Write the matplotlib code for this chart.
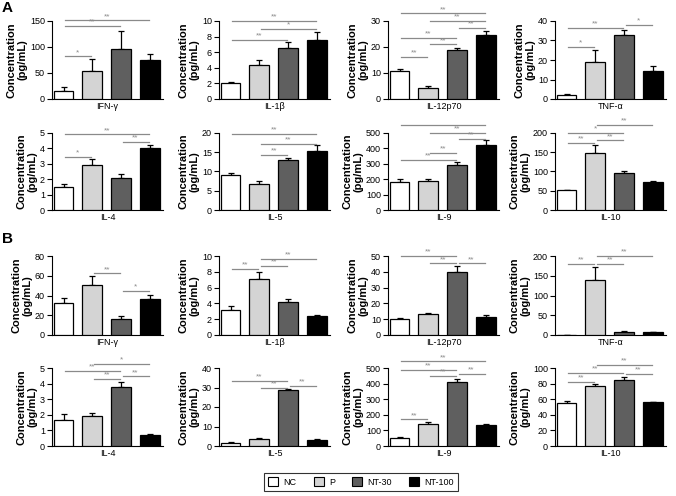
import matplotlib
matplotlib.use('Agg')
import matplotlib.pyplot as plt
from matplotlib.patches import Patch

plt.rcParams['font.family'] = ['Liberation Sans', 'DejaVu Sans']

groups = ['NC', 'P', 'NT-30', 'NT-100']
colors = ['white', '#d4d4d4', '#5f5f5f', 'black']
cytokines = ['IFN-γ', 'IL-1β', 'IL-12p70', 'TNF-α', 'IL-4', 'IL-5', 'IL-9', 'IL-10']

# Panel A
means_A = [[16, 53, 96, 75], [2.1, 4.4, 6.6, 7.55], [10.8, 4.2, 18.8, 24.8], [2.3, 19, 32.7, 14.5],
           [1.5, 2.9, 2.07, 4.0], [9.2, 6.8, 12.9, 15.3], [185, 186, 295, 420], [51, 148, 95, 74]]
err_A = [[8, 23, 35, 12], [0.1, 0.55, 0.75, 1.1], [0.8, 0.9, 0.8, 1.2], [0.5, 6, 2.5, 2.2],
         [0.17, 0.4, 0.3, 0.25], [0.45, 0.85, 0.5, 1.6], [16, 13, 15, 32], [2, 20, 5, 2]]
ymax_A = [150, 10, 30, 40, 5, 20, 500, 200]
ystep_A = [50, 2, 10, 10, 1, 5, 100, 50]
sig_A = [
    [(0, 1, 82, '*'), (0, 2, 140, '**'), (0, 3, 151, '**')],
    [(0, 2, 7.6, '**'), (1, 3, 9.0, '*'), (0, 3, 10.0, '**')],
    [(0, 1, 16.1, '**'), (1, 2, 21, '**'), (0, 2, 23.4, '**'), (2, 3, 27.3, '**'), (1, 3, 30, '**'), (0, 3, 32.9, '**')],
    [(0, 1, 26.6, '*'), (0, 2, 36.4, '**'), (2, 3, 38, '*')],
    [(0, 1, 3.43, '*'), (2, 3, 4.4, '**'), (0, 3, 4.91, '**')],
    [(1, 2, 14.3, '**'), (1, 3, 17.2, '**'), (0, 3, 19.7, '**')],
    [(0, 2, 323, '**'), (1, 2, 373, '**'), (2, 3, 461, '**'), (1, 3, 500, '**'), (0, 3, 554, '')],
    [(0, 1, 175, '**'), (1, 2, 181, '**'), (0, 2, 200, '*'), (1, 3, 221, '**')],
]

# Panel B
means_B = [[32, 51, 16, 36.5], [3.15, 7.1, 4.15, 2.4], [10, 13.5, 40, 11.5], [0, 140, 8, 7.5],
           [1.65, 1.95, 3.8, 0.7], [1.5, 3.8, 28.5, 3.3], [52, 140, 412, 137], [54.5, 77.5, 84, 56.5]]
err_B = [[5, 8.5, 3.7, 4.3], [0.55, 0.9, 0.35, 0.17], [1, 0.3, 3.5, 1.2], [0, 31, 1, 1],
         [0.42, 0.18, 0.33, 0.05], [0.5, 0.4, 0.7, 0.4], [3, 15, 16, 3], [2.6, 1.7, 5, 0.5]]
ymax_B = [80, 10, 50, 200, 5, 40, 500, 100]
ystep_B = [20, 2, 10, 50, 1, 10, 100, 20]
sig_B = [
    [(1, 2, 62.4, '**'), (2, 3, 44.4, '*')],
    [(0, 1, 8.4, '**'), (1, 2, 8.75, '**'), (1, 3, 9.6, '**')],
    [(0, 2, 50, '**'), (1, 2, 45.3, '**'), (2, 3, 45.3, '**')],
    [(0, 1, 180, '**'), (1, 2, 180, '**'), (1, 3, 200, '**')],
    [(1, 2, 4.29, '**'), (2, 3, 4.46, '**'), (0, 2, 4.79, '**'), (1, 3, 5.26, '*')],
    [(0, 2, 33.3, '**'), (1, 2, 29.9, '**'), (2, 3, 30.8, '**')],
    [(0, 1, 170, '**'), (1, 2, 449, '**'), (2, 3, 460, '**'), (0, 2, 489, '**'), (0, 3, 542, '**')],
    [(0, 1, 82.6, '**'), (2, 3, 92, '**'), (0, 2, 94, '**'), (1, 3, 103.8, '**')],
]

W, H = 676, 496
fig = plt.figure(figsize=(W / 100, H / 100), dpi=100)

col_left = [52, 219, 388, 555]
ax_w = 111
row_top = [21, 133, 256, 368]
row_h = [78, 77, 79, 78]


def draw_panel(ax, name, means, errs, ymax, ystep, sigs):
    x = list(range(4))
    ax.bar(x, means, width=0.69, color=colors, edgecolor='black', linewidth=0.9, zorder=3)
    ax.errorbar(x, means, yerr=[[0] * 4, errs], fmt='none', ecolor='black',
                elinewidth=0.9, capsize=2.5, capthick=0.9, zorder=2)
    ax.set_xlim(-0.4, 3.45)
    ax.set_ylim(0, ymax)
    ticks = [ystep * k for k in range(int(round(ymax / ystep)) + 1)]
    ax.set_yticks(ticks)
    ax.set_yticklabels([f'{t:g}' for t in ticks], fontsize=6.5)
    ax.set_xticks([])
    ax.set_xlabel(name, fontsize=6.5, labelpad=2)
    ax.set_ylabel('Concentration\n(pg/mL)', fontsize=8, fontweight='bold', labelpad=2,
                  linespacing=1.1)
    for s in ['top', 'right']:
        ax.spines[s].set_visible(False)
    for s in ['left', 'bottom']:
        ax.spines[s].set_linewidth(0.8)
    ax.tick_params(axis='y', length=3.5, width=0.8, pad=1.5)
    for i, j, y, lab in sigs:
        ax.plot([i + 0.05, j - 0.05], [y, y], color='#8a8a8a', lw=0.9, clip_on=False, zorder=4)
        if lab:
            ax.annotate(lab, xy=((i + j) / 2, y), xytext=(0, 0.3), textcoords='offset points',
                        ha='center', va='bottom', fontsize=6, color='#8a8a8a',
                        annotation_clip=False)


for p, (means, errs, ymaxs, ysteps, sigs) in enumerate([
        (means_A, err_A, ymax_A, ystep_A, sig_A),
        (means_B, err_B, ymax_B, ystep_B, sig_B)]):
    for k in range(8):
        r = p * 2 + k // 4
        c = k % 4
        left = col_left[c] / W
        bottom = 1 - (row_top[r] + row_h[r]) / H
        ax = fig.add_axes([left, bottom, ax_w / W, row_h[r] / H])
        draw_panel(ax, cytokines[k], means[k], errs[k], ymaxs[k], ysteps[k], sigs[k])

fig.text(2 / W, 1 - 1 / H, 'A', fontsize=11, fontweight='bold', va='top', ha='left')
fig.text(2 / W, 1 - 232 / H, 'B', fontsize=11, fontweight='bold', va='top', ha='left')

handles = [Patch(facecolor=c, edgecolor='black', linewidth=0.8) for c in colors]
leg = fig.legend(handles, groups, loc='center', bbox_to_anchor=(361 / W, 1 - 482 / H),
                 ncol=4, fontsize=6.5, frameon=True, fancybox=False, edgecolor='black',
                 handlelength=1.15, handleheight=1.15, columnspacing=1.9, handletextpad=0.55,
                 borderpad=0.45)
leg.get_frame().set_linewidth(0.8)

fig.savefig('out.png', dpi=100)
